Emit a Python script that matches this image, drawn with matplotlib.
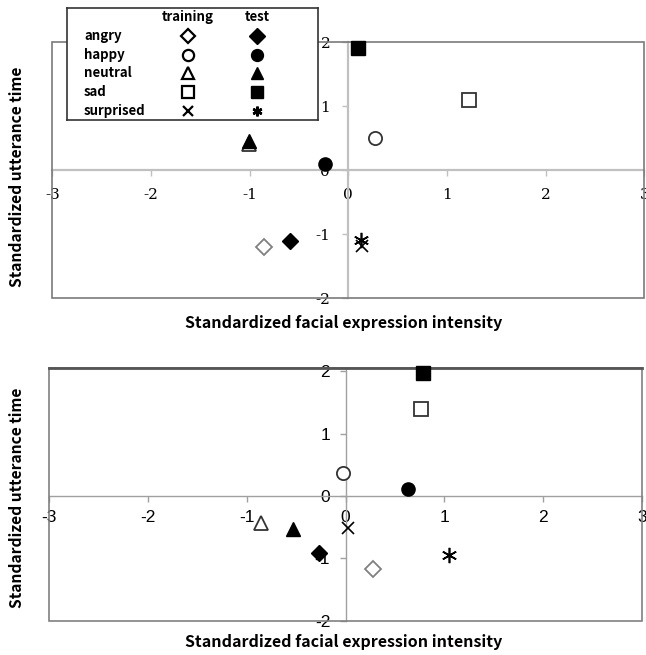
import matplotlib
matplotlib.use('Agg')
import matplotlib.pyplot as plt
from matplotlib.patches import Rectangle

plt.rcParams['axes.unicode_minus'] = False

# data: training / test points per emotion, for the two panels
emotions = ['angry', 'happy', 'neutral', 'sad', 'surprised']

top_train_x = [-0.85, 0.27, -1.01, 1.22, 0.14]
top_train_y = [-1.21, 0.50, 0.41, 1.10, -1.18]
top_test_x = [-0.59, -0.24, -1.01, 0.10, 0.13]
top_test_y = [-1.11, 0.09, 0.46, 1.91, -1.10]

bot_train_x = [0.28, -0.03, -0.86, 0.76, 0.03]
bot_train_y = [-1.17, 0.37, -0.44, 1.40, -0.52]
bot_test_x = [-0.27, 0.63, -0.53, 0.79, 1.05]
bot_test_y = [-0.92, 0.12, -0.53, 1.98, -0.95]

xticks = [-3, -2, -1, 0, 1, 2, 3]
yticks = [-2, -1, 0, 1, 2]
xlabel = 'Standardized facial expression intensity'
ylabel = 'Standardized utterance time'

# marker styles (training = open, test = filled)
train_mk = ['D', 'o', '^', 's', 'x']
test_mk = ['D', 'o', '^', 's', (6, 2, 0)]
mk_size = {'D': 8.5, 'o': 9.5, '^': 10, 's': 9.5, 'x': 8}

label_font = dict(family=['Noto Sans CJK JP', 'DejaVu Sans'], weight='bold')

W, H = 646, 655
fig = plt.figure(figsize=(W / 100, H / 100), dpi=100)


def fx(px):
    return px / W


def fy(py):
    return 1 - py / H


def draw_points(ax, tx, ty, sx, sy, edge):
    for i in range(len(emotions)):
        m = train_mk[i]
        ec = '#808080' if m == 'D' else edge
        if m == 'x':
            ax.plot(tx[i], ty[i], marker='x', ms=mk_size['x'], mec='black', mew=1.2,
                    ls='none', zorder=3, clip_on=False)
        else:
            ax.plot(tx[i], ty[i], marker=m, ms=mk_size[m], mfc='white', mec=ec, mew=1.3,
                    ls='none', zorder=3, clip_on=False)
    for i in range(len(emotions)):
        m = test_mk[i]
        if isinstance(m, tuple):
            ax.plot(sx[i], sy[i], marker=m, ms=11, mec='black', mew=1.2,
                    ls='none', zorder=4, clip_on=False)
        else:
            ax.plot(sx[i], sy[i], marker=m, ms=mk_size[m], mfc='black', mec='black',
                    ls='none', zorder=4, clip_on=False)


def setup_axes(ax, ylim, line_col, line_w, box_col, tick_font, xpad, ypad):
    ax.set_xlim(-3, 3)
    ax.set_ylim(*ylim)
    for s in ['left', 'bottom']:
        ax.spines[s].set_position('zero')
        ax.spines[s].set_color(line_col)
        ax.spines[s].set_linewidth(line_w)
    for s in ['top', 'right']:
        ax.spines[s].set_visible(False)
    ax.add_patch(Rectangle((0, 0), 1, 1, transform=ax.transAxes, fill=False,
                           ec=box_col, lw=1.2, zorder=2.6, clip_on=False))
    ax.set_xticks(xticks)
    ax.set_yticks(yticks)
    ax.set_xticklabels([str(v) for v in xticks], **tick_font)
    ax.set_yticklabels([str(v) for v in yticks], **tick_font)
    ax.tick_params(axis='x', direction='out', length=4, width=1, color=line_col, pad=xpad)
    ax.tick_params(axis='y', direction='out', length=4, width=1, color=line_col, pad=ypad)
    ax.patch.set_alpha(0)


# top panel
ax1 = fig.add_axes([fx(52.3), fy(298), fx(592), fy(42) - fy(298)])
setup_axes(ax1, (-2, 2), '#c0c0c0', 1.6, '#7a7a7a',
           dict(family='DejaVu Serif', fontsize=11), 9, 9)
draw_points(ax1, top_train_x, top_train_y, top_test_x, top_test_y, '#333333')

# bottom panel
ax2 = fig.add_axes([fx(49.3), fy(620.7), fx(592.4), fy(368) - fy(620.7)])
setup_axes(ax2, (-2, 2.053), '#a0a0a0', 1.0, '#808080',
           dict(family='Liberation Sans', fontsize=12.5), 6, 7)
ax2.axhline(2.053, color='#555555', lw=2, zorder=2.7, clip_on=False)
draw_points(ax2, bot_train_x, bot_train_y, bot_test_x, bot_test_y, '#333333')

# axis titles
for yc in [323, 642]:
    fig.text(fx(344), fy(yc), xlabel, ha='center', va='center', fontsize=11.5, **label_font)
for yc in [177, 498]:
    fig.text(fx(17), fy(yc), ylabel, ha='center', va='center', rotation=90,
             fontsize=11.2, **label_font)

# legend box for the top panel
lg = fig.add_axes([fx(67), fy(120), fx(251), fy(8) - fy(120)], zorder=5)
lg.set_xlim(0, 251)
lg.set_ylim(112, 0)
lg.set_xticks([])
lg.set_yticks([])
for s in lg.spines.values():
    s.set_color('#333333')
    s.set_linewidth(1.2)
lg.set_facecolor('white')
col_train, col_test = 121, 190
lg.text(col_train, 9, 'training', ha='center', va='center', fontsize=9.5, **label_font)
lg.text(col_test, 9, 'test', ha='center', va='center', fontsize=9.5, **label_font)
row_y = [28, 47, 65, 84, 103]
for i, name in enumerate(emotions):
    lg.text(17, row_y[i], name, ha='left', va='center', fontsize=9.5, **label_font)
    m = train_mk[i]
    if m == 'x':
        lg.plot(col_train, row_y[i], marker='x', ms=6.5, mec='black', mew=1.6, ls='none')
    else:
        lg.plot(col_train, row_y[i], marker=m, ms=mk_size[m] * 0.85, mfc='white',
                mec='black', mew=1.6, ls='none')
    m = test_mk[i]
    if isinstance(m, tuple):
        lg.plot(col_test, row_y[i], marker=m, ms=7, mec='black', mew=1.8, ls='none')
    else:
        lg.plot(col_test, row_y[i], marker=m, ms=mk_size[m] * 0.9, mfc='black',
                mec='black', ls='none')

fig.savefig('out.png', dpi=100)
